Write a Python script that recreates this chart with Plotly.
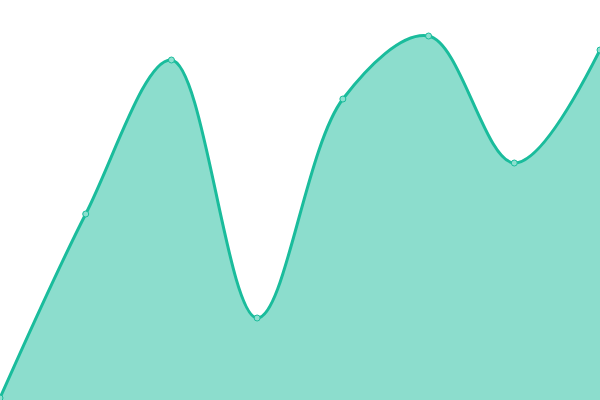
import plotly.graph_objects as go

# Point positions (index) and values
x_idx = [0, 1, 2, 3, 4, 5, 6, 7]
values = [2, 186, 340, 82, 301, 364, 237, 350]

fig = go.Figure()
fig.add_trace(go.Scatter(
    x=x_idx, y=values,
    mode='lines+markers',
    line=dict(color='#1abc9c', width=3, shape='spline', smoothing=1),
    marker=dict(size=6, color='#8ce0cf', line=dict(color='#1abc9c', width=1)),
    fill='tozeroy',
    fillcolor='rgba(26,188,156,0.5)',
    hoverinfo='skip',
))

fig.update_layout(
    width=600, height=400,
    margin=dict(l=0, r=0, t=0, b=0),
    paper_bgcolor='white', plot_bgcolor='white',
    showlegend=False,
    xaxis=dict(visible=False, range=[0, 7], fixedrange=True),
    yaxis=dict(visible=False, range=[0, 400], fixedrange=True),
)

# drop the page's default body margin so the chart sits at 0,0
fig.write_html("out.html", config={'displayModeBar': False},
               post_script="document.body.style.margin='0';")
